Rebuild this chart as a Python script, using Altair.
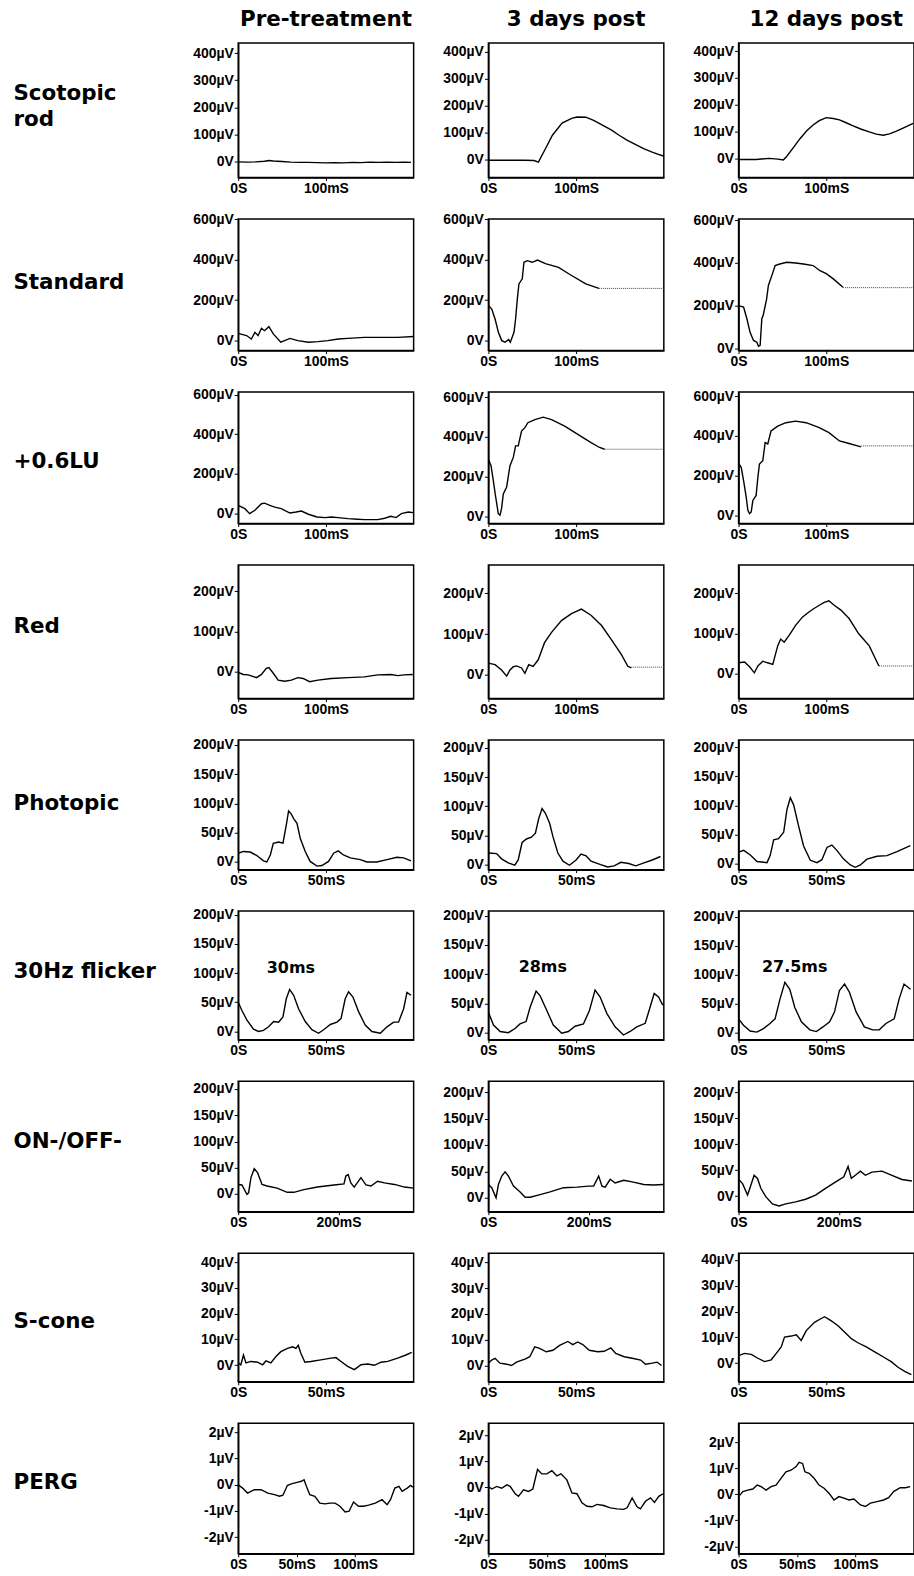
import altair as alt
import pandas as pd

COLUMN_TITLES = ["Pre-treatment", "3 days post", "12 days post"]
ROW_LABELS = [["Scotopic", "rod"], "Standard", "+0.6LU", "Red", "Photopic",
              "30Hz flicker", "ON-/OFF-", "S-cone", "PERG"]

X_DOMAINS = [[0, 200], [0, 200], [0, 200], [0, 200], [0, 100], [0, 100], [0, 350], [0, 100], [0, 150]]
X_TICKS = [[0, 100], [0, 100], [0, 100], [0, 100], [0, 50], [0, 50], [0, 200], [0, 50], [0, 50, 100]]
Y_TICKS = [[0, 100, 200, 300, 400], [0, 200, 400, 600], [0, 200, 400, 600], [0, 100, 200],
           [0, 50, 100, 150, 200], [0, 50, 100, 150, 200], [0, 50, 100, 150, 200],
           [0, 10, 20, 30, 40], [-2, -1, 0, 1, 2]]
Y_DOMAINS = [
    [[-60, 438], [-67, 433], [-69, 430]],
    [[-49, 601], [-49, 601], [-8, 605]],
    [[-50, 613], [-37, 627], [-42, 622]],
    [[-67, 265], [-58, 269], [-62, 270]],
    [[-13, 208], [-8.5, 213.5], [-10, 212]],
    [[-14, 206], [-12, 208], [-12, 210]],
    [[-34, 215], [-26.5, 221], [-30, 221]],
    [[-6.5, 43.5], [-6.3, 43.5], [-7.2, 42.6]],
    [[-2.63, 2.34], [-2.54, 2.46], [-2.28, 2.72]],
]

# ---- Scotopic rod (µV vs ms)
SCOT_PRE_T = [0, 10, 20, 30, 35, 40, 50, 60, 70, 80, 90, 100, 110, 120, 130, 140, 150, 160, 170, 180, 190, 197]
SCOT_PRE_V = [-2, -3, -2, 0, 3, 1, -1, -3, -4, -4, -5, -6, -5, -6, -4, -5, -3, -4, -3, -4, -3, -4]
SCOT_D3_T = [0, 20, 40, 52, 57, 65, 73, 84, 95, 101, 111, 120, 130, 140, 149, 158, 168, 177, 186, 193, 199.5]
SCOT_D3_V = [-3, -3, -3, -4, -10, 40, 90, 135, 153, 158, 157, 145, 128, 110, 90, 72, 55, 40, 28, 20, 13]
SCOT_D12_T = [0, 20, 35, 45, 51, 55, 62, 70, 78, 85, 92, 100, 108, 115, 122, 130, 140, 149, 157, 165, 172, 180, 190, 199]
SCOT_D12_V = [-2, -2, 2, -1, -4, 10, 40, 75, 105, 126, 142, 153, 150, 145, 135, 123, 110, 100, 92, 88, 93, 103, 118, 132]

# ---- Standard
STD_PRE_T = [0, 9.5, 15, 19, 22.7, 26.5, 30, 35, 40, 48.5, 59, 68, 80, 91, 102, 114, 125, 144, 163, 182, 200]
STD_PRE_V = [36, 25, 8, 41, 25, 61, 49, 69, 33, -8, 11, 0, -8, -5, 0, 8, 11, 16, 16, 16, 20]
STD_D3_T = [0, 3.8, 7.6, 11.4, 15.2, 19, 23, 25, 29.2, 31, 33, 34.8, 38.6, 40.5, 44.3, 50, 56, 65, 80, 92, 111, 126]
STD_D3_V = [173, 156, 107, 41, 0, -8, 5, -8, 41, 107, 206, 280, 305, 387, 395, 387, 398, 380, 362, 329, 280, 258]
STD_D3_TAIL_T = [126, 200]
STD_D3_TAIL_V = [258, 258]
STD_D12_T = [0, 5.7, 9.5, 13, 17, 20.8, 22.7, 24.6, 26.5, 28, 32, 34, 37.9, 41.7, 47, 55, 65, 74, 85, 92.8, 100, 108, 119]
STD_D12_V = [201, 194, 140, 78, 39, 31, 12, 16, 140, 155, 233, 295, 341, 388, 395, 403, 400, 395, 388, 364, 350, 326, 287]
STD_D12_TAIL_T = [119, 200]
STD_D12_TAIL_V = [285, 285]

# ---- +0.6LU
LU_PRE_T = [0, 7.6, 13, 19, 26.5, 30, 36, 41.7, 49, 59, 66, 72, 80, 89.8, 99, 106, 114, 125, 136, 144, 159, 167, 174, 180, 186, 193.9, 199.6]
LU_PRE_V = [42, 25, 0, 17, 50, 53, 42, 33, 25, 3, 8, 13, -3, -17, -20, -17, -20, -25, -28, -30, -30, -23, -13, -20, 0, 8, 5]
LU_D3_T = [0, 3, 5.6, 8.3, 11.3, 13.2, 15, 17, 20.8, 24.6, 28.4, 31, 34, 37.8, 41.6, 45, 53, 62.5, 72, 87, 102, 117, 126.8, 132.5]
LU_D3_V = [288, 255, 180, 97, 13, 5, 38, 113, 147, 255, 297, 355, 355, 430, 447, 472, 488, 500, 488, 455, 413, 372, 347, 338]
LU_D3_TAIL_T = [132.5, 200]
LU_D3_TAIL_V = [338, 338]
LU_D12_T = [0, 3, 5.7, 8.7, 10.6, 12.5, 14.4, 16.3, 20, 22, 23.8, 27.6, 30.3, 33.3, 37, 44.6, 54, 65, 77, 92, 103, 115, 126, 135.6, 139.4]
LU_D12_V = [262, 242, 175, 92, 25, 8, 17, 75, 100, 192, 258, 275, 367, 360, 425, 450, 467, 475, 467, 442, 417, 375, 362, 350, 345]
LU_D12_TAIL_T = [139.4, 200]
LU_D12_TAIL_V = [350, 350]

# ---- Red
RED_PRE_T = [0, 5.7, 11.4, 20.8, 26.5, 32, 35, 40, 45.5, 53, 60.6, 68, 73.9, 81.4, 91, 106, 125, 144, 159, 174, 182, 189, 199]
RED_PRE_V = [-2, -7, -8, -15, -7, 8, 10, -4, -21, -24, -21, -15, -17, -25, -21, -17, -15, -13, -8, -7, -10, -8, -7]
RED_D3_T = [0, 7.6, 15, 20.8, 24.6, 28.4, 32, 37.8, 41.6, 46, 51, 56.8, 64, 72, 83.3, 94.7, 106, 117, 129, 140, 151.5, 159, 162.9]
RED_D3_V = [29, 25, 12, -3, 12, 20, 22, 17, 4, 25, 21, 37, 79, 104, 133, 150, 161, 146, 121, 87, 50, 21, 17]
RED_D3_TAIL_T = [162.9, 200]
RED_D3_TAIL_V = [19, 19]
RED_D12_T = [0, 6.8, 12.5, 18, 22, 27.6, 33, 39, 44.6, 48, 52, 57.6, 65, 73, 80.6, 86, 92, 97.7, 103, 109, 116.7, 126, 137, 149, 156.4, 160]
RED_D12_V = [27, 29, 17, 2, 19, 31, 27, 23, 69, 86, 78, 95, 120, 141, 154, 162, 170, 177, 181, 170, 158, 137, 99, 69, 35, 19]
RED_D12_TAIL_T = [160, 200]
RED_D12_TAIL_V = [19, 19]

# ---- Photopic
PHOT_PRE_T = [0, 3, 6.8, 10.6, 14.4, 16.3, 18.3, 20, 23, 25.5, 27.4, 28.7, 30, 31.6, 33.5, 35.4, 38.2, 41, 44.9, 47.7, 51.5, 54.4, 57, 60, 63.9, 69.6, 73.4, 79, 84.8, 90.5, 94.3, 98.5]
PHOT_PRE_V = [15, 18, 17, 11, 2, 0, 12, 32, 34, 32, 63, 87, 83, 74, 66, 40, 18, 1, -7, -6, 1, 15, 19, 12, 7, 4, 0, 0, 4, 8, 7, 2]
PHOT_D3_T = [0, 4.7, 7.5, 11.3, 15, 17, 19.2, 21.7, 24.5, 26.8, 28.7, 30.6, 32.5, 34.9, 36.8, 39.6, 42.5, 46.2, 50, 52.8, 55.7, 58.5, 64, 68, 71.7, 75.5, 80, 84, 88.7, 93.4, 98.1]
PHOT_D3_V = [20, 19, 10, 3, -1, 8, 38, 44, 47, 54, 79, 96, 88, 71, 48, 20, 6, -1, 8, 18, 15, 6, 0, -4, -2, 4, 2, -2, 3, 8, 14]
PHOT_D12_T = [0, 2.9, 6.7, 10.5, 16.2, 18, 20, 22.8, 25.7, 27.6, 29.5, 31.4, 34.2, 37, 40.9, 44.7, 47.5, 50.4, 53.2, 56, 59.9, 63.7, 66.5, 69.4, 73.2, 78.9, 84.6, 90.3, 97.9]
PHOT_D12_V = [20, 23, 15, 4, 2, 14, 41, 43, 54, 93, 113, 101, 65, 31, 6, 2, 7, 28, 32, 23, 8, -2, -6, -2, 8, 13, 14, 21, 31]

# ---- 30Hz flicker
FLK_PRE_T = [0, 2.1, 4.9, 8.7, 11.6, 14.4, 17.3, 20.2, 23, 25.5, 27.4, 29.3, 31.6, 34.4, 38.2, 42, 45.8, 48.7, 52.5, 56.3, 58.6, 61, 62.9, 65.4, 68.6, 72.4, 76.2, 81, 84.8, 88.6, 91.4, 94.3, 96.2, 98.5]
FLK_PRE_V = [50, 36, 20, 4, 0, 2, 8, 17, 16, 25, 56, 72, 62, 39, 17, 3, -3, 3, 12, 16, 22, 56, 68, 59, 34, 11, 0, -3, 8, 16, 16, 39, 67, 62]
FLK_D3_T = [0, 2.9, 6.7, 11.4, 15.2, 18, 21.5, 23.8, 27.2, 29.5, 33.3, 37, 41.8, 45.6, 49.4, 54.2, 57.6, 60.8, 63.7, 67.5, 72.2, 77, 80.8, 84.6, 89.4, 92.2, 94.5, 97, 99.4]
FLK_D3_V = [35, 13, 2, 0, 7, 15, 19, 44, 71, 63, 38, 13, -1, 2, 11, 15, 38, 73, 61, 33, 10, -4, 2, 10, 16, 44, 67, 61, 47]
FLK_D12_T = [0, 2.8, 6.6, 10.4, 14.2, 17.9, 20.8, 23.6, 26.4, 29.2, 32, 35.8, 40.6, 44.3, 48.1, 51.9, 54.7, 57.5, 60.4, 63.2, 67, 71.7, 76.4, 80.2, 84, 88.7, 91.5, 94.3, 98]
FLK_D12_V = [24, 13, 3, 1, 7, 16, 24, 58, 87, 75, 44, 19, 5, 2, 10, 19, 36, 73, 84, 70, 36, 10, 5, 5, 16, 24, 58, 84, 75]
FLK_NOTE_T = [30, 31, 32]
FLK_NOTE_V = [109, 112, 114]
FLK_NOTE_TEXT = ["30ms", "28ms", "27.5ms"]

# ---- ON-/OFF-
ONOFF_PRE_T = [0, 7.4, 17.4, 20.7, 25.4, 32, 38.8, 47.5, 57.5, 77.6, 97.7, 111, 131, 158, 191, 211, 214.7, 219.4, 224.7, 231.4, 244.8, 254.8, 264.9, 278, 291.6, 311.7, 331.8, 350]
ONOFF_PRE_V = [18, 17, -1, 2, 31, 48, 40, 18, 15, 11, 3, 3, 8, 13, 17, 19, 34, 37, 21, 13, 31, 17, 15, 24, 21, 18, 13, 11]
ONOFF_D3_T = [0, 6.7, 15.3, 20, 26.7, 33.3, 40, 50, 63.3, 73.3, 83.3, 103, 123, 150, 177, 200, 210, 220, 226.7, 233, 243, 253, 270, 287, 310, 330, 348.7]
ONOFF_D3_V = [25, 19, 0, 25, 41, 49, 41, 22, 11, 1, 1, 6, 11, 19, 20, 22, 22, 41, 22, 20, 35, 28, 33, 30, 25, 24, 25]
ONOFF_D12_T = [0, 8, 17.9, 24.5, 31, 37.7, 44.4, 54.3, 67.5, 80.8, 94, 114, 133.8, 153.6, 173.5, 193, 210, 218.5, 225, 233, 243, 253, 266, 286, 306, 326, 345.7]
ONOFF_D12_V = [32, 24, 2, 21, 40, 34, 15, -1, -15, -19, -15, -11, -6, 2, 15, 27, 37, 57, 34, 40, 48, 40, 46, 48, 40, 32, 29]

# ---- S-cone
SCONE_PRE_T = [0, 1.5, 3, 4.4, 7.2, 11, 13.9, 15.8, 18.6, 21.5, 24.3, 28.1, 31, 32.9, 34.2, 35.7, 38, 41.4, 47.1, 52.9, 55.7, 58.6, 62.4, 66.2, 70, 73.8, 77.6, 81.4, 85.2, 90.9, 95.6, 98.9]
SCONE_PRE_V = [0.8, 0.1, 3.9, 0.8, 1.4, 1.1, 0.1, 1.6, 0.8, 3.3, 5.2, 6.5, 7.1, 6.5, 7.7, 4.6, 1.1, 1.4, 2, 2.7, 2.9, 1.4, -0.5, -1.8, 0.1, 0.4, -0.1, 1.1, 1.4, 2.7, 3.9, 4.9]
SCONE_D3_T = [0, 1.9, 3.8, 6.6, 10.4, 13.2, 16, 20.8, 23.6, 26.4, 29.2, 33, 36.8, 40.6, 45.3, 48.1, 50.9, 53.8, 57.5, 62.3, 66, 69.8, 72.6, 77.4, 82, 86.8, 89.6, 93.4, 96.2, 98.7]
SCONE_D3_V = [0.9, 2.1, 2.8, 0.9, 0.5, 0, 1.3, 2.5, 3.4, 7.2, 6.6, 5.3, 5.9, 7.8, 9.3, 8.1, 9.1, 8.1, 5.9, 5.3, 5.5, 6.8, 4.7, 3.4, 2.8, 2.1, 0.5, 0.9, 1.3, 0]
SCONE_D12_T = [0, 3.4, 7.2, 11, 14.8, 18.6, 21.5, 24.3, 26.2, 30, 32.9, 35.7, 38.6, 43.3, 47.1, 49, 52.9, 56.7, 60.5, 64.3, 68, 72.8, 77.6, 83.3, 87, 90.9, 94.7, 98.5]
SCONE_D12_V = [2.9, 3.8, 3.4, 1.9, 0.6, 1.3, 3.8, 6.3, 10.1, 10.5, 11, 8.8, 12.6, 15.8, 17.3, 18, 16.4, 14.5, 12, 9.5, 7.9, 6.3, 4.4, 2.1, 0.6, -1.6, -3.2, -4.4]

# ---- PERG
PERG_PRE_T = [0, 3.7, 8, 13.8, 19.5, 25.3, 31, 35.3, 38.2, 42, 45.4, 51.1, 54, 56.3, 58.3, 61.2, 65.5, 69.8, 74.1, 78.4, 82.8, 87, 91.4, 94.8, 98.6, 102.9, 107.2, 111.5, 117.2, 123, 127.3, 130.2, 133.9, 137.4, 140.2, 144.5, 147.4, 149.4]
PERG_PRE_V = [0, -0.13, -0.32, -0.19, -0.19, -0.32, -0.38, -0.44, -0.4, -0.03, 0.03, 0.1, 0.13, 0.19, -0.06, -0.38, -0.44, -0.7, -0.73, -0.7, -0.7, -0.82, -1.04, -1.01, -0.66, -0.82, -0.82, -0.78, -0.7, -0.57, -0.76, -0.57, -0.13, -0.06, -0.25, -0.13, -0.03, -0.1]
PERG_D3_T = [0, 2.9, 7.1, 11.4, 15.7, 18.6, 22.9, 25.7, 30, 34.3, 38, 42, 45.7, 50, 54.3, 58.6, 62, 67.1, 71.4, 75.7, 80, 84.3, 88.6, 92.9, 98.6, 104.3, 110, 115.7, 118.6, 122.9, 127.1, 130, 134.3, 138.6, 142, 145.7, 149.4]
PERG_D3_V = [0.04, -0.06, 0.04, -0.03, 0.1, 0.04, -0.24, -0.34, -0.09, -0.15, -0.06, 0.69, 0.52, 0.52, 0.64, 0.44, 0.52, 0.29, -0.21, -0.24, -0.59, -0.72, -0.74, -0.65, -0.69, -0.78, -0.82, -0.84, -0.78, -0.4, -0.74, -0.82, -0.53, -0.4, -0.57, -0.34, -0.24]
PERG_D12_T = [0, 3.7, 7.9, 12.2, 15.9, 19.3, 23.5, 27.8, 32, 36.3, 40.5, 44.8, 49, 51.8, 54.7, 56.7, 60.3, 64.6, 68.8, 73.1, 77.3, 81.6, 85.8, 90.1, 94.3, 98.6, 104.2, 108.5, 112.7, 118.4, 124, 128.3, 132.6, 138.2, 142.5, 146.7]
PERG_D12_V = [-0.09, 0.1, 0.16, 0.2, 0.35, 0.29, 0.16, 0.29, 0.35, 0.61, 0.86, 0.92, 1.05, 1.22, 1.18, 0.86, 0.8, 0.61, 0.35, 0.23, 0.04, -0.22, -0.09, -0.15, -0.22, -0.18, -0.41, -0.47, -0.34, -0.28, -0.22, -0.13, 0.1, 0.25, 0.25, 0.29]

TRACES = [
    [(SCOT_PRE_T, SCOT_PRE_V), (SCOT_D3_T, SCOT_D3_V), (SCOT_D12_T, SCOT_D12_V)],
    [(STD_PRE_T, STD_PRE_V), (STD_D3_T, STD_D3_V), (STD_D12_T, STD_D12_V)],
    [(LU_PRE_T, LU_PRE_V), (LU_D3_T, LU_D3_V), (LU_D12_T, LU_D12_V)],
    [(RED_PRE_T, RED_PRE_V), (RED_D3_T, RED_D3_V), (RED_D12_T, RED_D12_V)],
    [(PHOT_PRE_T, PHOT_PRE_V), (PHOT_D3_T, PHOT_D3_V), (PHOT_D12_T, PHOT_D12_V)],
    [(FLK_PRE_T, FLK_PRE_V), (FLK_D3_T, FLK_D3_V), (FLK_D12_T, FLK_D12_V)],
    [(ONOFF_PRE_T, ONOFF_PRE_V), (ONOFF_D3_T, ONOFF_D3_V), (ONOFF_D12_T, ONOFF_D12_V)],
    [(SCONE_PRE_T, SCONE_PRE_V), (SCONE_D3_T, SCONE_D3_V), (SCONE_D12_T, SCONE_D12_V)],
    [(PERG_PRE_T, PERG_PRE_V), (PERG_D3_T, PERG_D3_V), (PERG_D12_T, PERG_D12_V)],
]
TAILS = {
    (1, 1): (STD_D3_TAIL_T, STD_D3_TAIL_V), (1, 2): (STD_D12_TAIL_T, STD_D12_TAIL_V),
    (2, 1): (LU_D3_TAIL_T, LU_D3_TAIL_V), (2, 2): (LU_D12_TAIL_T, LU_D12_TAIL_V),
    (3, 1): (RED_D3_TAIL_T, RED_D3_TAIL_V), (3, 2): (RED_D12_TAIL_T, RED_D12_TAIL_V),
}

# layout (pixels)
ROW_HEIGHTS = [135, 132, 132, 134, 130, 129, 131, 129, 131]
LABEL_Y = [57, 70, 76, 68, 70, 67, 67, 75, 66]
PANEL_W = 176

LABEL_FONT = "Liberation Sans"
HEAVY_FONT = "DejaVu Sans"


def make_panel(r, c):
    t, v = TRACES[r][c]
    xscale = alt.Scale(domain=X_DOMAINS[r], nice=False, zero=False)
    yscale = alt.Scale(domain=Y_DOMAINS[r][c], nice=False, zero=False)
    xaxis = alt.Axis(values=X_TICKS[r], title=None,
                     labelExpr="datum.value == 0 ? '0S' : datum.value + 'mS'")
    if c == 0:
        yaxis = alt.Axis(values=Y_TICKS[r],
                         labelExpr="datum.value == 0 ? '0V' : datum.value + 'µV'",
                         title=ROW_LABELS[r], titleAngle=0, titleAlign="left",
                         titleBaseline="alphabetic", titleX=-226, titleY=LABEL_Y[r],
                         titleFont=HEAVY_FONT, titleFontSize=21.5, titleFontWeight="bold",
                         titleColor="black", titleLineHeight=26)
    else:
        yaxis = alt.Axis(values=Y_TICKS[r], title=None,
                         labelExpr="datum.value == 0 ? '0V' : datum.value + 'µV'")
    X = alt.X("t:Q", scale=xscale, axis=xaxis)
    Y = alt.Y("v:Q", scale=yscale, axis=yaxis)

    layers = [alt.Chart(pd.DataFrame({"t": t, "v": v}))
              .mark_line(color="black", strokeWidth=1.4)
              .encode(x=X, y=Y)]
    if (r, c) in TAILS:
        tt, tv = TAILS[(r, c)]
        layers.append(alt.Chart(pd.DataFrame({"t": tt, "v": tv}))
                      .mark_line(color="#444444", strokeWidth=1, strokeDash=[1, 1])
                      .encode(x=X, y=Y))
    if r == 5:
        layers.append(alt.Chart(pd.DataFrame({"t": [FLK_NOTE_T[c]], "v": [FLK_NOTE_V[c]],
                                              "s": [FLK_NOTE_TEXT[c]]}))
                      .mark_text(font=HEAVY_FONT, fontSize=16, fontWeight="bold",
                                 align="center", baseline="middle", color="black")
                      .encode(x=X, y=Y, text="s:N"))
    ch = alt.layer(*layers).properties(width=PANEL_W, height=ROW_HEIGHTS[r])
    if r == 0:
        ch = ch.properties(title=alt.TitleParams(
            text=COLUMN_TITLES[c], font=HEAVY_FONT, fontSize=21.5, fontWeight="bold",
            color="black", anchor="middle", frame="group", baseline="alphabetic", offset=-4))
    return ch


panels = [make_panel(r, c) for r in range(9) for c in range(3)]

chart = (
    alt.concat(*panels, columns=3, spacing={"row": 41.6, "column": 75},
               bounds="flush", align="each")
    .properties(padding={"left": 12, "top": 4.5, "right": -3, "bottom": 0},
                background="white")
    .configure_view(stroke="black", strokeWidth=1.5)
    .configure_axis(domainColor="black", domainWidth=1.5, tickColor="black",
                    tickWidth=1, labelColor="black", labelFont=LABEL_FONT,
                    labelFontSize=14, labelFontWeight="bold", grid=False,
                    labelFlush=False, labelOverlap=False)
    .configure_axisY(tickSize=4, labelPadding=1)
    .configure_axisX(tickSize=3, labelPadding=1)
)

chart.save("out.html", embed_options={"renderer": "svg", "actions": False})
